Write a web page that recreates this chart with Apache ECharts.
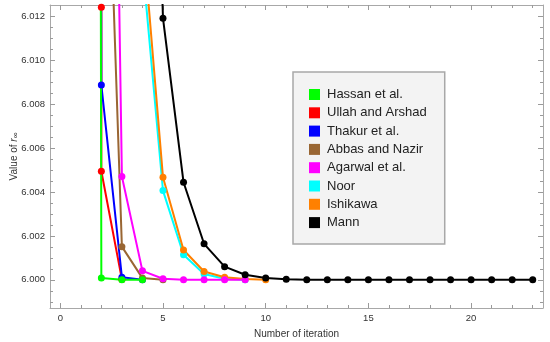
<!DOCTYPE html>
<html>
<head>
<meta charset="utf-8">
<script src="https://cdn.jsdelivr.net/npm/echarts@6/dist/echarts.min.js"></script>
<style>html,body{margin:0;padding:0;background:#fff}#c{width:550px;height:342px}</style>
</head>
<body>
<div id="c"></div>
<script>
// ---- data (points above the frame are estimates) ----
const seriesNames = ['Hassan et al.', 'Ullah and Arshad', 'Thakur et al.', 'Abbas and Nazir', 'Agarwal et al.', 'Noor', 'Ishikawa', 'Mann'];
const seriesColors = ['#00ff00', '#ff0000', '#0000ff', '#996633', '#ff00ff', '#00ffff', '#ff8000', '#000000'];

const hassanX = [1, 2, 3, 4];
const hassanY = [6.5, 6.00008, 6.0000, 6.0000];

const ullahX = [1, 2, 2, 3];
const ullahY = [6.5, 6.0124, 6.00494, 6.00002];

const thakurX = [1, 2, 3, 4];
const thakurY = [6.5, 6.00886, 6.00012, 6.0000];

const abbasX = [1, 2, 3, 4, 5];
const abbasY = [6.5, 6.029, 6.00151, 6.00008, 6.0000];

const agarwalX = [1, 2, 3, 4, 5, 6, 7, 8, 9];
const agarwalY = [6.5, 6.065, 6.0047, 6.00041, 6.00005, 6.0000, 6.0000, 6.0000, 6.0000];

const noorX = [1, 2, 3, 4, 5, 6, 7, 8, 9];
const noorY = [6.5, 6.2, 6.06, 6.0144, 6.00406, 6.00114, 6.00027, 6.00005, 6.00001];

const ishikawaX = [1, 2, 3, 4, 5, 6, 7, 8, 9, 10];
const ishikawaY = [6.5, 6.25, 6.07, 6.0159, 6.00467, 6.00136, 6.00038, 6.00012, 6.00004, 6.00001];

const mannX = [1, 2, 3, 4, 5, 6, 7, 8, 9, 10, 11, 12, 13, 14, 15, 16, 17, 18, 19, 20, 21, 22, 23];
const mannY = [6.5, 6.3, 6.12, 6.042, 6.0119, 6.00444, 6.00164, 6.0006, 6.00023, 6.00008, 6.00003, 6.00001,
               6.0000, 6.0000, 6.0000, 6.0000, 6.0000, 6.0000, 6.0000, 6.0000, 6.0000, 6.0000, 6.0000];

const xMajorTicks = [0, 5, 10, 15, 20];
const xMinorTicks = [1, 2, 3, 4, 6, 7, 8, 9, 11, 12, 13, 14, 16, 17, 18, 19, 21, 22, 23];
const yMajorTicks = [6.000, 6.002, 6.004, 6.006, 6.008, 6.010, 6.012];
const yMinorTicks = [5.999, 5.9995, 6.0005, 6.001, 6.0015, 6.0025, 6.003, 6.0035, 6.0045, 6.005, 6.0055,
                     6.0065, 6.007, 6.0075, 6.0085, 6.009, 6.0095, 6.0105, 6.011, 6.0115];

// ---- chart ----
const pairs = (xs, ys) => xs.map((x, i) => [x, ys[i]]);
const allData = {
  'Hassan et al.': pairs(hassanX, hassanY),
  'Ullah and Arshad': pairs(ullahX, ullahY),
  'Thakur et al.': pairs(thakurX, thakurY),
  'Abbas and Nazir': pairs(abbasX, abbasY),
  'Agarwal et al.': pairs(agarwalX, agarwalY),
  'Noor': pairs(noorX, noorY),
  'Ishikawa': pairs(ishikawaX, ishikawaY),
  'Mann': pairs(mannX, mannY)
};
const drawOrder = ['Ullah and Arshad', 'Thakur et al.', 'Abbas and Nazir', 'Hassan et al.', 'Noor', 'Ishikawa', 'Agarwal et al.', 'Mann'];

const FRAME = '#a8a8a8';
const TICK = '#9a9a9a';
const LABEL = '#333333';
const FONT = 'Liberation Sans, Arial, sans-serif';
const X_MIN = -0.5, X_MAX = 23.5, Y_MIN = 5.99872, Y_MAX = 6.0125;

function plainAxis(gridIndex, position, min, max, vals, len, showLine) {
  return {
    type: 'value', gridIndex: gridIndex, position: position, min: min, max: max,
    axisLine: { show: showLine, onZero: false, lineStyle: { color: FRAME, width: 1 } },
    axisTick: { show: true, inside: true, length: len, customValues: vals, lineStyle: { color: TICK, width: 1 } },
    axisLabel: { show: false },
    splitLine: { show: false }
  };
}

const xMain = plainAxis(0, 'bottom', X_MIN, X_MAX, xMajorTicks, 5, true);
xMain.axisLabel = { show: true, customValues: xMajorTicks, margin: 5, color: LABEL, fontSize: 9.5, fontFamily: FONT };
xMain.name = 'Number of iteration';
xMain.nameLocation = 'middle';
xMain.nameGap = 21;
xMain.nameMoveOverlap = false;
xMain.nameTextStyle = { color: LABEL, fontSize: 10, fontFamily: FONT };

const yMain = plainAxis(0, 'left', Y_MIN, Y_MAX, yMajorTicks, 5, true);
yMain.axisLabel = { show: true, customValues: yMajorTicks, margin: 5, color: LABEL, fontSize: 9.5, fontFamily: FONT,
                    formatter: v => v.toFixed(3) };
yMain.name = '{a|Value of }{i|r}{s|∞}';
yMain.nameLocation = 'middle';
yMain.nameGap = 30;
yMain.nameMoveOverlap = false;
yMain.nameRotate = 90;
yMain.nameTextStyle = {
  color: LABEL, fontSize: 10, fontFamily: FONT,
  rich: {
    a: { color: LABEL, fontSize: 10, fontFamily: FONT },
    i: { color: LABEL, fontSize: 10, fontFamily: FONT, fontStyle: 'italic' },
    s: { color: LABEL, fontSize: 8, fontFamily: FONT, padding: [4, 0, 0, 0] }
  }
};

const xAxes = [
  xMain,
  plainAxis(0, 'top', X_MIN, X_MAX, xMajorTicks, 5, true),
  plainAxis(1, 'bottom', X_MIN, X_MAX, xMinorTicks, 3, false),
  plainAxis(1, 'top', X_MIN, X_MAX, xMinorTicks, 3, false)
];
const yAxes = [
  yMain,
  plainAxis(0, 'right', Y_MIN, Y_MAX, yMajorTicks, 5, true),
  plainAxis(1, 'left', Y_MIN, Y_MAX, yMinorTicks, 3, false),
  plainAxis(1, 'right', Y_MIN, Y_MAX, yMinorTicks, 3, false)
];

const series = drawOrder.map(name => {
  const color = seriesColors[seriesNames.indexOf(name)];
  return {
    name: name, type: 'line', xAxisIndex: 0, yAxisIndex: 0,
    data: allData[name],
    symbol: 'circle', symbolSize: 7, showSymbol: true, clip: true,
    itemStyle: { color: color },
    lineStyle: { color: color, width: 2 },
    emphasis: { disabled: true },
    animation: false
  };
});

const gridBox = { left: 50, right: 7, top: 5, bottom: 34, containLabel: false, outerBoundsMode: 'none' };

const chart = echarts.init(document.getElementById('c'), null, { renderer: 'canvas' });
chart.setOption({
  animation: false,
  backgroundColor: '#ffffff',
  grid: [Object.assign({}, gridBox), Object.assign({}, gridBox)],
  xAxis: xAxes,
  yAxis: yAxes,
  legend: {
    data: seriesNames,
    orient: 'vertical', left: 293, top: 72,
    icon: 'rect', itemWidth: 11, itemHeight: 11, itemGap: 5.3,
    backgroundColor: '#f3f3f3', borderColor: '#a8a8a8', borderWidth: 1.5,
    padding: [16, 18, 15, 16],
    selectedMode: false,
    textStyle: { color: '#222', fontSize: 13, fontFamily: FONT, lineHeight: 13, width: 99, padding: [0, 0, 0, 2] }
  },
  series: series
});
</script>
</body>
</html>
